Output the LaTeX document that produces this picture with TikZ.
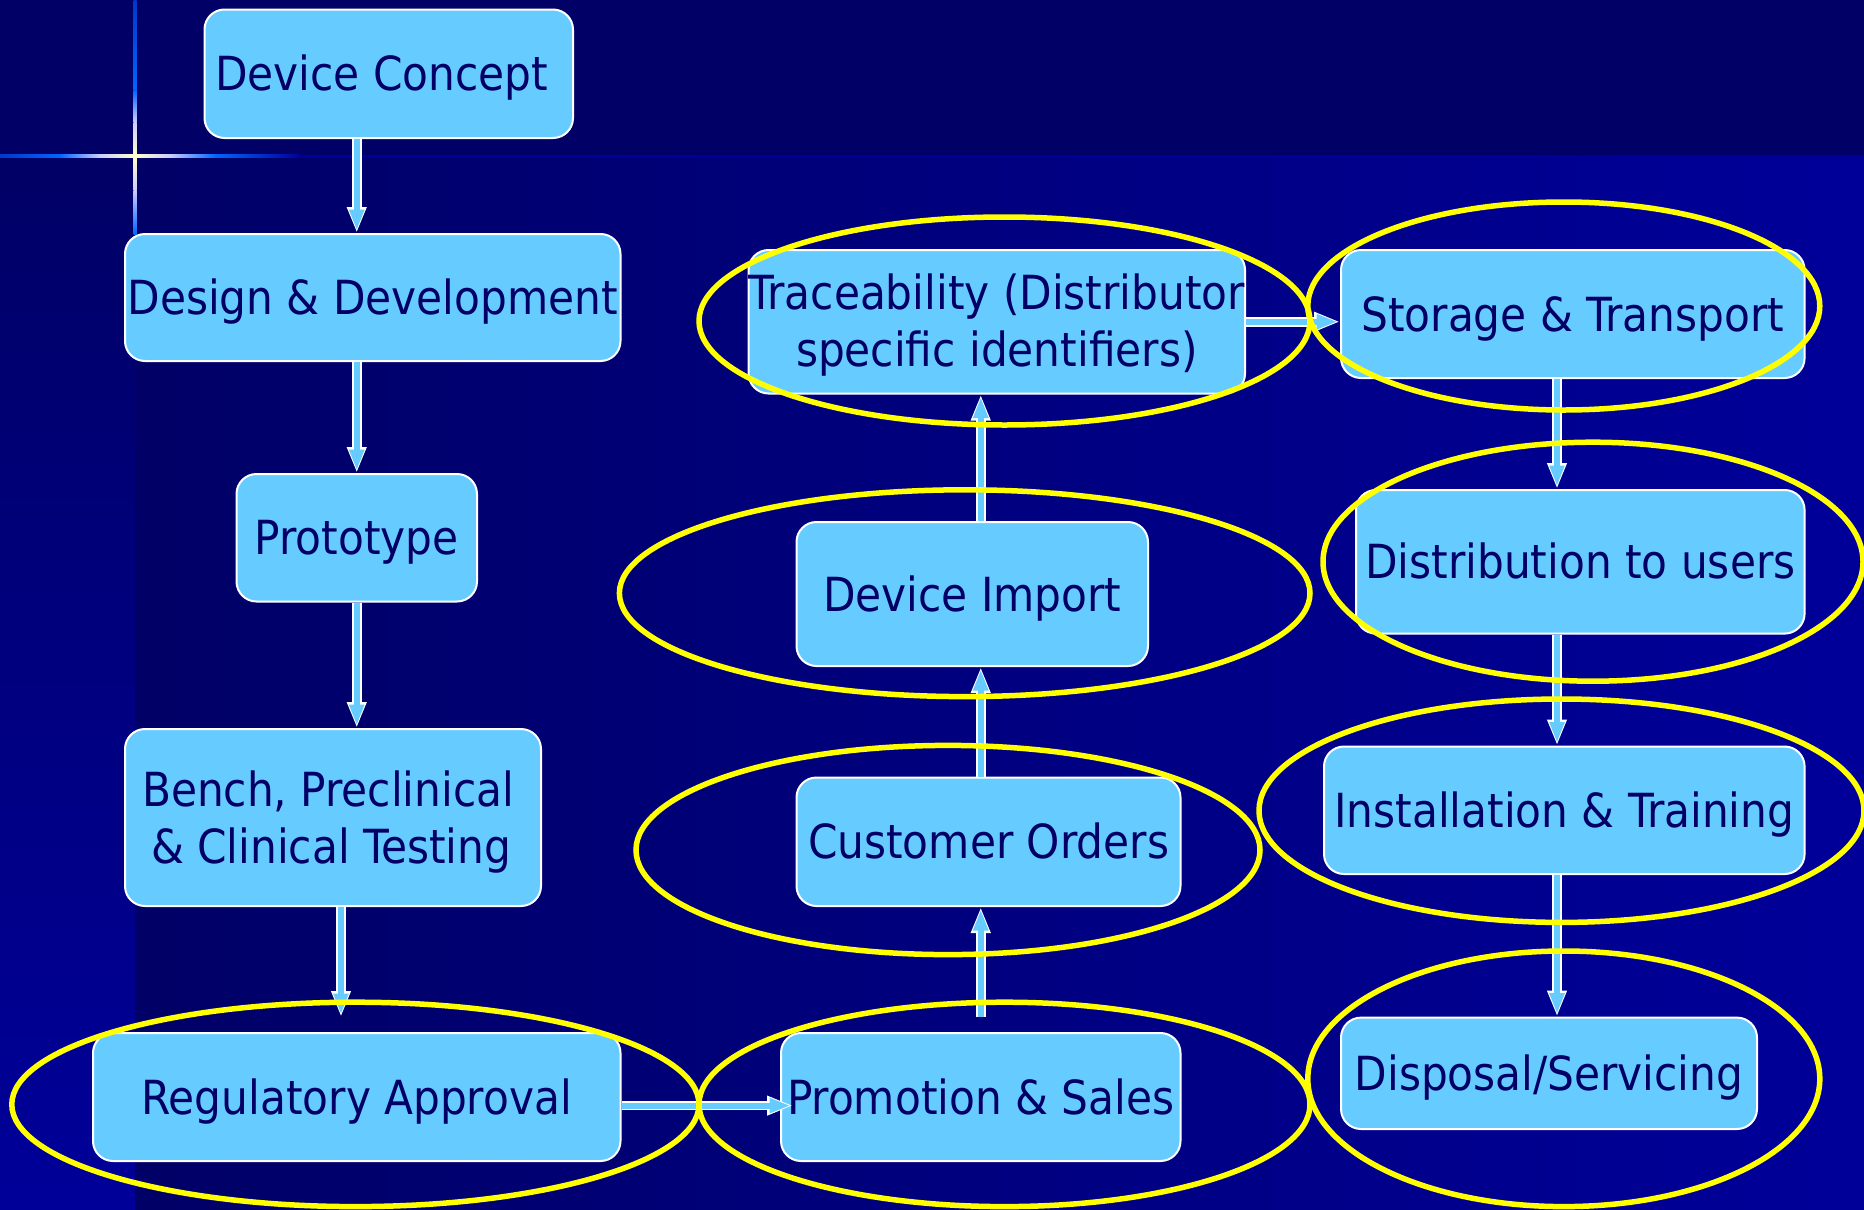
\documentclass[tikz,border=0pt]{standalone}
\usepackage{fontspec}
\setmainfont{DejaVu Sans Condensed}
\usetikzlibrary{arrows.meta}

\definecolor{deepnavy}{HTML}{000066}
\definecolor{royalnavy}{HTML}{000099}
\definecolor{skyfill}{HTML}{66CCFF}
\definecolor{glowblue}{HTML}{0066FF}
\definecolor{glowedge}{HTML}{0038C8}
\definecolor{glowhalo}{HTML}{CCCCFF}
\definecolor{glowcore}{HTML}{FFFFCC}
\definecolor{ringyellow}{HTML}{FFFF00}

\begin{document}
\begin{tikzpicture}[x=1pt,y=-1pt,
  stage/.style={draw=white, line width=2pt, fill=skyfill, rounded corners=20pt,
    text=deepnavy, font=\fontsize{47}{57}\selectfont, inner sep=0pt, align=center},
  oneline/.style={text height=34.3pt, text depth=0pt},
  flowhalo/.style={draw=white, line width=9.5pt, -{Triangle[length=26pt,width=18pt]}},
  flowcore/.style={draw=skyfill, line width=6pt, -{Triangle[length=21pt,width=14pt]}},
  ring/.style={draw=ringyellow, line width=5.5pt}]

% canvas
\useasboundingbox (0,0) rectangle (1864,1210);
\fill[deepnavy] (0,0) rectangle (1864,1210);
\shade[left color=deepnavy, right color=royalnavy] (135,157) rectangle (1864,1210);
\shade[top color=deepnavy, bottom color=royalnavy] (0,157) rectangle (135,1210);

% light streaks crossing near the top left corner
\shade[left color=glowedge, right color=glowblue] (0,154.5) rectangle (60,157.5);
\shade[left color=glowblue, right color=glowhalo] (60,154.5) rectangle (100,157.5);
\shade[left color=glowhalo, right color=glowcore] (100,154.5) rectangle (135,157.5);
\shade[left color=glowcore, right color=glowhalo] (135,154.5) rectangle (170,157.5);
\shade[left color=glowhalo, right color=glowblue] (170,154.5) rectangle (215,157.5);
\shade[left color=glowblue, right color=royalnavy] (215,154.5) rectangle (300,157.5);
\fill[royalnavy] (300,154.5) rectangle (1864,157.5);
\shade[top color=glowedge, bottom color=glowblue] (133.5,0) rectangle (136.5,90);
\shade[top color=glowblue, bottom color=glowhalo] (133.5,90) rectangle (136.5,122);
\shade[top color=glowhalo, bottom color=glowcore] (133.5,122) rectangle (136.5,156);
\shade[top color=glowcore, bottom color=glowhalo] (133.5,156) rectangle (136.5,190);
\shade[top color=glowhalo, bottom color=glowblue] (133.5,190) rectangle (136.5,234);

% process stages
\node[stage, oneline, minimum width=368.5pt, minimum height=128.5pt] (dc) at (388.75,73.75) {Device Concept\hspace*{14pt}};
\node[stage, oneline, minimum width=495.5pt, minimum height=127pt] (dd) at (372.75,297.5) {Design \& Development};
\node[stage, oneline, minimum width=240.5pt, minimum height=127.5pt] (proto) at (356.75,537.75) {Prototype};
\node[stage, align=left, minimum width=416pt, minimum height=177pt] (bench) at (333,817.5) {\rule{0pt}{44.7pt}Bench, Preclinical\hspace*{10pt}\\\hspace*{9pt}\& Clinical Testing};
\node[stage, oneline, minimum width=527.5pt, minimum height=128pt] (reg) at (356.75,1097) {Regulatory Approval};
\node[stage, oneline, minimum width=399.5pt, minimum height=128pt] (prom) at (980.75,1097) {Promotion \& Sales};
\node[stage, oneline, minimum width=384pt, minimum height=128.5pt] (cust) at (988.5,841.75) {Customer Orders};
\node[stage, oneline, minimum width=351.5pt, minimum height=144pt] (imp) at (972.25,594) {Device Import};
\node[stage, minimum width=495.6pt, minimum height=143.5pt] (trace) at (996.8,321.75) {\rule{0pt}{43pt}Traceability (Distributor\\specific identifiers)};
\node[stage, oneline, minimum width=463.6pt, minimum height=128pt] (store) at (1572.8,314) {Storage \& Transport};
\node[stage, oneline, minimum width=448.6pt, minimum height=143.6pt] (dist) at (1580.3,561.8) {Distribution to users};
\node[stage, oneline, minimum width=480.6pt, minimum height=127.5pt] (inst) at (1564.3,810.25) {Installation \& Training};
\node[stage, oneline, minimum width=416pt, minimum height=111.4pt] (disp) at (1549,1073.3) {Disposal/Servicing};

% anchor points of the off-centre flows
\coordinate (benchout) at ([xshift=8pt]bench.south);
\coordinate (regout) at ([yshift=-8.6pt]reg.east);
\coordinate (storeout) at ([xshift=-15.8pt]store.south);

% development column
\draw[flowhalo] (dc.south -| proto.north) -- (dd.north -| proto.north);
\draw[flowcore, shorten >=2.5pt] (dc.south -| proto.north) -- (dd.north -| proto.north);
\draw[flowhalo] (dd.south -| proto.north) -- (proto.north);
\draw[flowcore, shorten >=2.5pt] (dd.south -| proto.north) -- (proto.north);
\draw[flowhalo] (proto.south) -- (bench.north -| proto.south);
\draw[flowcore, shorten >=2.5pt] (proto.south) -- (bench.north -| proto.south);
\draw[flowhalo, shorten >=15pt] (benchout) -- (benchout |- reg.north);
\draw[flowcore, shorten >=17.5pt] (benchout) -- (benchout |- reg.north);

% market column
\draw[flowhalo, shorten >=-13pt] (regout) -- (regout -| prom.west);
\draw[flowcore, shorten >=-10.5pt] (regout) -- (regout -| prom.west);
\draw[flowhalo, shorten <=15pt] (prom.north) -- (cust.south -| prom.north);
\draw[flowcore, shorten <=15pt, shorten >=2.5pt] (prom.north) -- (cust.south -| prom.north);
\draw[flowhalo] (cust.north -| prom.north) -- (imp.south -| prom.north);
\draw[flowcore, shorten >=2.5pt] (cust.north -| prom.north) -- (imp.south -| prom.north);
\draw[flowhalo] (imp.north -| prom.north) -- (trace.south -| prom.north);
\draw[flowcore, shorten >=2.5pt] (imp.north -| prom.north) -- (trace.south -| prom.north);
\draw[flowhalo] (trace.east) -- (store.west |- trace.east);
\draw[flowcore, shorten >=2.5pt] (trace.east) -- (store.west |- trace.east);

% delivery column
\draw[flowhalo] (storeout) -- (storeout |- dist.north);
\draw[flowcore, shorten >=2.5pt] (storeout) -- (storeout |- dist.north);
\draw[flowhalo] (dist.south -| storeout) -- (inst.north -| storeout);
\draw[flowcore, shorten >=2.5pt] (dist.south -| storeout) -- (inst.north -| storeout);
\draw[flowhalo] (inst.south -| storeout) -- (disp.north -| storeout);
\draw[flowcore, shorten >=2.5pt] (inst.south -| storeout) -- (disp.north -| storeout);

% highlight rings
\draw[ring] (1004.5,321) ellipse [x radius=305.5, y radius=104];
\draw[ring] (1563.8,306) ellipse [x radius=256, y radius=104];
\draw[ring] (964.7,593.2) ellipse [x radius=345.3, y radius=103.4];
\draw[ring] (1593,561.7) ellipse [x radius=270, y radius=119.5];
\draw[ring] (948,850) ellipse [x radius=312, y radius=104.6];
\draw[ring] (1561.5,810.7) ellipse [x radius=302.5, y radius=111.7];
\draw[ring] (355.4,1104.4) ellipse [x radius=343.6, y radius=102.2];
\draw[ring] (1004.5,1104.4) ellipse [x radius=305.5, y radius=102.2];
\draw[ring] (1563.8,1078.8) ellipse [x radius=256, y radius=127.8];
\end{tikzpicture}
\end{document}
